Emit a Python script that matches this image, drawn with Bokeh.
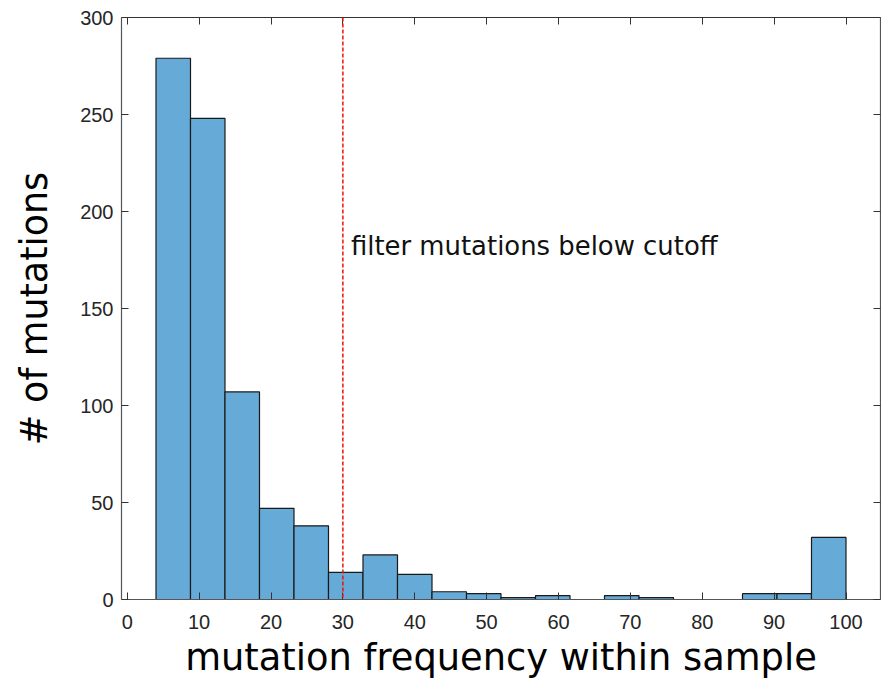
import numpy as np
from bokeh.plotting import figure
from bokeh.models import LinearAxis, Span, Label, ColumnDataSource, FixedTicker
from bokeh.embed import file_html
from bokeh.resources import INLINE

# Histogram data (mutation frequency within sample, %)
bin_edges = list(np.linspace(4, 100, 21))
counts = [279, 248, 107, 47, 38, 14, 23, 13, 4, 3, 1, 2, 0, 2, 1, 0, 0, 3, 3, 32]
cutoff = 30
x_ticks = [0, 10, 20, 30, 40, 50, 60, 70, 80, 90, 100]
y_ticks = [0, 50, 100, 150, 200, 250, 300]
annotation = "filter mutations below cutoff"

src = ColumnDataSource(dict(left=bin_edges[:-1], right=bin_edges[1:],
                            top=counts, bottom=[0] * len(counts)))

p = figure(frame_width=759, frame_height=582, output_backend="svg", toolbar_location=None,
           x_range=(-0.8, 104.8), y_range=(0, 300),
           min_border_left=121, min_border_right=1, min_border_top=17, min_border_bottom=84)
p.outline_line_color = None
p.xgrid.visible = False
p.ygrid.visible = False
p.background_fill_color = "white"
p.border_fill_color = "white"

p.quad(left="left", right="right", top="top", bottom="bottom", source=src,
       fill_color="#66AAD7", line_color="#1a1a1a", line_width=1.2)

p.add_layout(Span(location=cutoff, dimension="height", line_color="#ee1111",
                  line_dash="4 2", line_width=1.5))
p.add_layout(Label(x=cutoff, y=182, x_offset=8, text=annotation,
                   text_font="DejaVu Sans", text_font_size="25.9px", text_color="#111111",
                   text_baseline="middle"))

axcol = "#555555"
for ax in p.xaxis:
    ax.ticker = FixedTicker(ticks=x_ticks)
    ax.axis_label = "mutation frequency within sample"
for ax in p.yaxis:
    ax.ticker = FixedTicker(ticks=y_ticks)
    ax.axis_label = "# of mutations"

for ax in list(p.xaxis) + list(p.yaxis):
    ax.axis_line_color = axcol
    ax.axis_line_width = 1.2
    ax.major_tick_in = 7
    ax.major_tick_out = 0
    ax.major_tick_line_color = "#333333"
    ax.minor_tick_line_color = None
    ax.major_label_text_font = "Liberation Sans"
    ax.major_label_text_font_size = "20px"
    ax.major_label_text_color = "#262626"
    ax.axis_label_text_font = "DejaVu Sans"
    ax.axis_label_text_font_style = "normal"
    ax.axis_label_text_color = "#000000"

p.xaxis.major_label_standoff = 15
p.xaxis.axis_label_text_font_size = "36.8px"
p.xaxis.axis_label_standoff = 4
p.yaxis.major_label_standoff = 8
p.yaxis.axis_label_text_font_size = "36.5px"
p.yaxis.axis_label_standoff = 21

top_ax = LinearAxis(ticker=FixedTicker(ticks=x_ticks),
                    major_label_overrides={t: "" for t in x_ticks},
                    major_tick_in=7, major_tick_out=0, minor_tick_line_color=None,
                    axis_line_color="#333333", axis_line_width=1.2, major_tick_line_color="#333333",
                    major_label_standoff=0)
right_ax = LinearAxis(ticker=FixedTicker(ticks=y_ticks),
                      major_label_overrides={t: "" for t in y_ticks},
                      major_tick_in=7, major_tick_out=0, minor_tick_line_color=None,
                      axis_line_color=axcol, axis_line_width=1.2, major_tick_line_color="#333333",
                      major_label_standoff=0)
p.add_layout(top_ax, "above")
p.add_layout(right_ax, "right")

open("out.html", "w").write(file_html(p, INLINE))
